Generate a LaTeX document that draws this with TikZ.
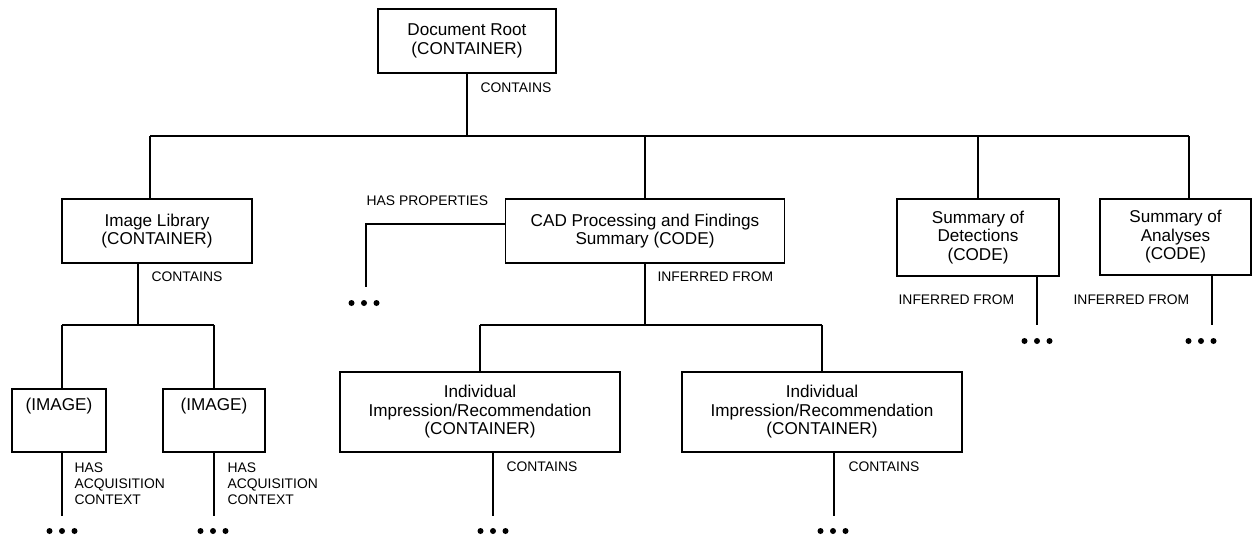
\documentclass[tikz,border=0pt]{standalone}
\usepackage{fontspec}
\setmainfont{Liberation Sans}
\usetikzlibrary{positioning}

\begin{document}
\begin{tikzpicture}[x=0.02cm, y=-0.02cm, line width=0.7pt,
    box/.style={draw, align=center, inner sep=0pt, font=\fontsize{9.75}{10.5}\selectfont},
    boxsize/.style 2 args={minimum width=#1*0.02cm, minimum height=#2*0.02cm},
    rel/.style={anchor=west, inner sep=0pt, align=left, font=\fontsize{7.9}{9}\selectfont}]
        \useasboundingbox (0,0) rectangle (1252,538);

        % Boxes
        \node [box, boxsize={178}{64}] (root) at (467,41) {Document Root\\(CONTAINER)};
        \node [box, boxsize={190}{64}] (lib) at (157,231) {Image Library\\(CONTAINER)};
        \node [box, boxsize={279}{64}] (cad) at (645,231) {CAD Processing and Findings\\Summary (CODE)};
        \node [box, boxsize={162}{77}] (det) at (978,237.5) {Summary of\\Detections\\(CODE)};
        \node [box, boxsize={151}{76}] (ana) at (1175.5,237) {Summary of\\Analyses\\(CODE)};
        \node [box, boxsize={94}{63}, text height=11.9pt, text depth=23.8pt] (img1) at (59,420.5) {(IMAGE)};
        \node [box, boxsize={102}{63}, text height=11.9pt, text depth=23.8pt] (img2) at (214,420.5) {(IMAGE)};
        \node [box, boxsize={280}{80}] (ind1) at (480,412) {Individual\\Impression/Recommendation\\(CONTAINER)};
        \node [box, boxsize={280}{80}] (ind2) at (822,412) {Individual\\Impression/Recommendation\\(CONTAINER)};

        % Relation labels
        \node [rel] (rootrel) at (480,88) {CONTAINS};
        \node [rel] (librel) at (151,277) {CONTAINS};
        \node [rel] (proprel) at (366,201) {HAS PROPERTIES};
        \node [rel] (cadrel) at (657,277) {INFERRED FROM};
        \node [rel] (detrel) at (898,300) {INFERRED FROM};
        \node [rel] (anarel) at (1073,300) {INFERRED FROM};
        \node [rel] (img1rel) at (74,484) {HAS\\ACQUISITION\\CONTEXT};
        \node [rel] (img2rel) at (227,484) {HAS\\ACQUISITION\\CONTEXT};
        \node [rel] (ind1rel) at (506,467) {CONTAINS};
        \node [rel] (ind2rel) at (848,467) {CONTAINS};

        % Continuation dots
        \coordinate (img1more) at (62,531);
        \coordinate (img2more) at (213,531);
        \coordinate (propmore) at (364,303);
        \coordinate (ind1more) at (493,531);
        \coordinate (ind2more) at (833,531);
        \coordinate (detmore) at (1037,341);
        \coordinate (anamore) at (1201,341);
        \foreach \d in {img1more, img2more, propmore, ind1more, ind2more, detmore, anamore}
            \foreach \dx in {-12.5, 0, 12.5}
                \fill ([xshift=\dx*0.02cm]\d) circle (3);

        % Top level tree
        \coordinate (busl) at (150,136);
        \coordinate (busr) at (1189,136);
        \draw (root.south) -- (root.south |- busl);
        \draw (busl) -- (busr);
        \draw (busl) -- (busl |- lib.north);
        \draw (cad.north |- busl) -- (cad.north);
        \draw (det.north |- busl) -- (det.north);
        \draw (busr) -- (busr |- ana.north);

        % Image library branch
        \coordinate (libstem) at (138,325);
        \coordinate (img1top) at (62,325);
        \coordinate (img1end) at (62,516);
        \coordinate (img2end) at (214,516);
        \draw (libstem |- lib.south) -- (libstem);
        \draw (img1top) -- (img2.north |- libstem);
        \draw (img1top) -- (img1top |- img1.north);
        \draw (img2.north |- libstem) -- (img2.north);
        \draw (img1end |- img1.south) -- (img1end);
        \draw (img2end |- img2.south) -- (img2end);

        % CAD branch
        \coordinate (propcorner) at (366,224);
        \coordinate (propend) at (366,287);
        \draw (propcorner -| cad.west) -- (propcorner) -- (propend);
        \coordinate (cadbus) at (645,325);
        \draw (cad.south) -- (cadbus);
        \draw (ind1.north |- cadbus) -- (ind2.north |- cadbus);
        \draw (ind1.north |- cadbus) -- (ind1.north);
        \draw (ind2.north |- cadbus) -- (ind2.north);
        \coordinate (ind1end) at (493,516);
        \coordinate (ind2end) at (834,516);
        \draw (ind1end |- ind1.south) -- (ind1end);
        \draw (ind2end |- ind2.south) -- (ind2end);

        % Summary branches
        \coordinate (detend) at (1037,325);
        \coordinate (anaend) at (1212,325);
        \draw (detend |- det.south) -- (detend);
        \draw (anaend |- ana.south) -- (anaend);
    \end{tikzpicture}
\end{document}
